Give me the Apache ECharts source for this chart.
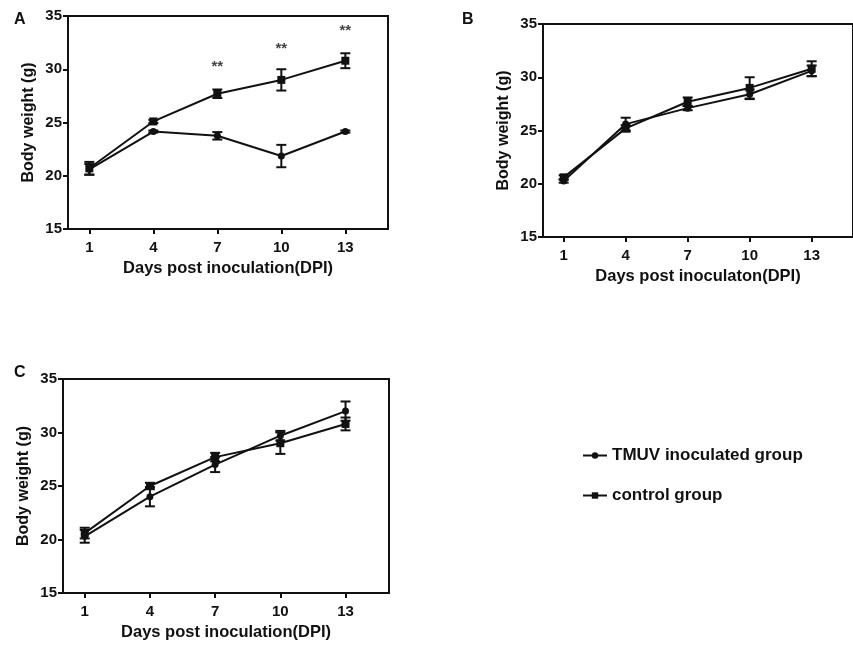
<!DOCTYPE html>
<html>
<head>
<meta charset="utf-8">
<script src="https://cdn.jsdelivr.net/npm/echarts@6/dist/echarts.min.js"></script>
<style>
html,body{margin:0;padding:0;background:#fff;}
#main{width:853px;height:647px;}
</style>
</head>
<body>
<div id="main"></div>
<script>
var days = [1, 4, 7, 10, 13];
var yTicks = [15, 20, 25, 30, 35];

// panel A
var tmuvA = [20.6, 24.15, 23.75, 21.85, 24.15];
var tmuvErrA = [0.5, 0.1, 0.35, 1.05, 0.1];
var ctrlA = [20.7, 25.1, 27.7, 29.0, 30.8];
var ctrlErrA = [0.6, 0.15, 0.4, 1.0, 0.7];
var starX = [7, 10, 13];
var starY = [30.2, 31.9, 33.6];

// panel B
var tmuvB = [20.25, 25.6, 27.1, 28.4, 30.6];
var tmuvErrB = [0.15, 0.6, 0.2, 0.45, 0.5];
var ctrlB = [20.6, 25.2, 27.7, 29.0, 30.8];
var ctrlErrB = [0.2, 0.3, 0.4, 1.0, 0.7];

// panel C
var tmuvC = [20.3, 24.0, 27.0, 29.7, 32.0];
var tmuvErrC = [0.6, 0.9, 0.7, 0.45, 0.9];
var ctrlC = [20.6, 25.0, 27.7, 29.0, 30.8];
var ctrlErrC = [0.5, 0.3, 0.4, 1.0, 0.6];

var FONT = 'Liberation Sans, Arial, sans-serif';

function pts(ys){
	var out = [];
	for(var i=0;i<days.length;i++){ out.push([days[i], ys[i]]); }
	return out;
}
function errs(ys, es){
	var out = [];
	for(var i=0;i<days.length;i++){ out.push([days[i], ys[i]-es[i], ys[i]+es[i]]); }
	return out;
}

function errorBar(params, api){
	var x = api.value(0);
	var lo = api.coord([x, api.value(1)]);
	var hi = api.coord([x, api.value(2)]);
	var w = 5;
	var st = {stroke:'#111', lineWidth:2};
	return {
		type:'group',
		children:[
			{type:'line', shape:{x1:lo[0], y1:lo[1], x2:hi[0], y2:hi[1]}, style:st},
			{type:'line', shape:{x1:lo[0]-w, y1:lo[1], x2:lo[0]+w, y2:lo[1]}, style:st},
			{type:'line', shape:{x1:hi[0]-w, y1:hi[1], x2:hi[0]+w, y2:hi[1]}, style:st}
		]
	};
}

function xAx(idx, name){
	return {
		type:'value', gridIndex:idx, min:0, max:15,
		name:name, nameLocation:'middle', nameGap:31,
		nameTextStyle:{fontFamily:FONT, fontWeight:'bold', fontSize:16.5, color:'#111'},
		axisLine:{show:true, lineStyle:{color:'#111', width:2}},
		axisTick:{show:true, length:5, lineStyle:{width:2, color:'#111'}, customValues:days},
		axisLabel:{fontFamily:FONT, fontWeight:'bold', fontSize:15, color:'#111', margin:11, customValues:days},
		splitLine:{show:false}
	};
}
function yAx(idx){
	return {
		type:'value', gridIndex:idx, min:15, max:35, interval:5,
		name:'Body weight (g)', nameLocation:'middle', nameGap:31,
		nameTextStyle:{fontFamily:FONT, fontWeight:'bold', fontSize:16, color:'#111'},
		axisLine:{show:true, lineStyle:{color:'#111', width:2}},
		axisTick:{show:true, length:5, lineStyle:{width:2, color:'#111'}},
		axisLabel:{fontFamily:FONT, fontWeight:'bold', fontSize:15, color:'#111', margin:6,
			customValues:yTicks},
		splitLine:{show:false}
	};
}

function lineSer(name, idx, ys, sym){
	return {
		name:name, type:'line', xAxisIndex:idx, yAxisIndex:idx,
		data:pts(ys), symbol:sym, symbolSize: sym=='rect' ? 8 : 7,
		showAllSymbol:true,
		itemStyle:{color:'#111'},
		lineStyle:{color:'#111', width:2},
		z:3
	};
}
function errSer(idx, ys, es){
	return {
		type:'custom', xAxisIndex:idx, yAxisIndex:idx,
		data:errs(ys, es), renderItem:errorBar, z:2, silent:true
	};
}

var T = 'TMUV inoculated group', K = 'control group';

var chart = echarts.init(document.getElementById('main'));
var option = {
	animation:false,
	title:[
		{text:'A', left:9, top:7, textStyle:{fontFamily:FONT, fontWeight:'bold', fontSize:16, color:'#111'}},
		{text:'B', left:457, top:7, textStyle:{fontFamily:FONT, fontWeight:'bold', fontSize:16, color:'#111'}},
		{text:'C', left:9, top:360, textStyle:{fontFamily:FONT, fontWeight:'bold', fontSize:16, color:'#111'}}
	],
	legend:{
		data:[T, K], orient:'vertical', left:577, top:442, itemGap:23,
		itemWidth:24, itemHeight:8,
		textStyle:{fontFamily:FONT, fontWeight:'bold', fontSize:17, color:'#111'},
		selectedMode:false
	},
	grid:[
		{left:68, top:16, width:320, height:213, show:true, borderColor:'#111', borderWidth:2},
		{left:543, top:24, width:320, height:213, show:true, borderColor:'#111', borderWidth:2},
		{left:63, top:379, width:326, height:214, show:true, borderColor:'#111', borderWidth:2}
	],
	xAxis:[xAx(0,'Days post inoculation(DPI)'), xAx(1,'Days post inoculaton(DPI)'), xAx(2,'Days post inoculation(DPI)')],
	yAxis:[yAx(0), yAx(1), yAx(2)],
	series:[
		errSer(0, tmuvA, tmuvErrA), errSer(0, ctrlA, ctrlErrA),
		lineSer(T, 0, tmuvA, 'circle'), lineSer(K, 0, ctrlA, 'rect'),
		{
			type:'scatter', xAxisIndex:0, yAxisIndex:0, symbolSize:1,
			itemStyle:{color:'rgba(0,0,0,0)'},
			data:starX.map(function(x,i){return [x, starY[i]];}),
			label:{show:true, position:'inside', formatter:'**', fontFamily:FONT, fontWeight:'bold', fontSize:15, color:'#111'},
			silent:true
		},
		errSer(1, tmuvB, tmuvErrB), errSer(1, ctrlB, ctrlErrB),
		lineSer(T, 1, tmuvB, 'circle'), lineSer(K, 1, ctrlB, 'rect'),
		errSer(2, tmuvC, tmuvErrC), errSer(2, ctrlC, ctrlErrC),
		lineSer(T, 2, tmuvC, 'circle'), lineSer(K, 2, ctrlC, 'rect')
	]
};
chart.setOption(option);
</script>
</body>
</html>
